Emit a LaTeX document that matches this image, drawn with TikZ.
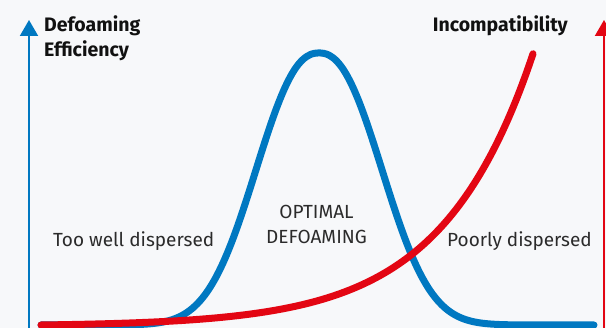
\documentclass[tikz,border=0pt]{standalone}
\usepackage{fontspec}
\setmainfont{Fira Sans}
\usetikzlibrary{arrows.meta}
\definecolor{bgc}{HTML}{F7F8FA}
\definecolor{bluec}{HTML}{0078C1}
\definecolor{redc}{HTML}{E30613}
\definecolor{txtc}{HTML}{2B2B2B}
\definecolor{hdc}{HTML}{111111}
\tikzset{
  lbl/.style={inner sep=0pt, text=txtc, font=\fontsize{19}{23}\selectfont},
  hd/.style={inner sep=0pt, text=hdc, font=\fontsize{19.5}{23}\selectfont\bfseries},
  axisline/.style={line width=2pt, -{Triangle[width=18pt,length=16pt]}},
  curve/.style={line width=7pt, line cap=round, line join=round}
}
\begin{document}
\begin{tikzpicture}[x=1pt,y=-1pt]
\fill[bgc] (0,0) rectangle (606,328);
\useasboundingbox (0,0) rectangle (606,328);
% axes
\coordinate (lb) at (29,330);
\coordinate (lt) at (29,20);
\coordinate (rb) at (604,330);
\coordinate (rt) at (604,20);
\draw[axisline, bluec] (lb) -- (lt);
\draw[axisline, redc] (rb) -- (rt);
% curves
\draw[curve, bluec] plot[domain=41:594, samples=220, smooth]
  (\x, {325-272*exp(-(pow((abs(\x-319)+0.001)/81,2.3)))});
\draw[curve, redc] plot[domain=41:533, samples=160, smooth]
  (\x, {325-1.215*(exp(0.011*(\x-41))-1)});
% labels
\node[hd, anchor=base west] (de1) at (44,32) {Defoaming};
\node[hd, anchor=base west] (de2) at (44,57) {Efficiency};
\node[hd, anchor=base east] (inc) at (568,32) {Incompatibility};
\node[lbl, anchor=base west] (tw) at (53,247) {Too well dispersed};
\node[lbl, anchor=base east] (pd) at (592,247) {Poorly dispersed};
\node[lbl, anchor=base] (op1) at (316.5,219) {OPTIMAL};
\node[lbl, anchor=base] (op2) at (316.5,244) {DEFOAMING};
\end{tikzpicture}
\end{document}
